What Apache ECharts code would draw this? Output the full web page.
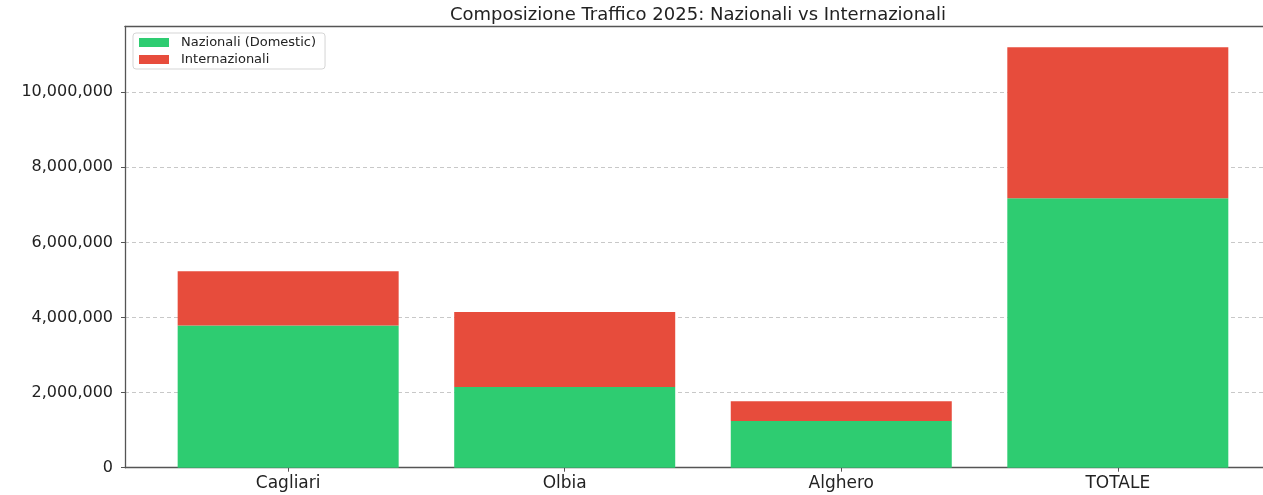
<!DOCTYPE html>
<html>
<head>
<meta charset="utf-8">
<script src="https://cdn.jsdelivr.net/npm/echarts@6/dist/echarts.min.js"></script>
<style>
  html, body { margin: 0; padding: 0; background: #fff; }
  #main { width: 1263px; height: 495px; }
</style>
</head>
<body>
<div id="main"></div>
<script>
// dati
const categories = ['Cagliari', 'Olbia', 'Alghero', 'TOTALE'];
const nazionali = [3790000, 2150000, 1245000, 7175000];
const internazionali = [1440000, 2000000, 525000, 4020000];

const fontName = 'DejaVu Sans';
const axisColor = '#555';

let myChart = echarts.init(document.getElementById('main'));

// posizioni delle barre sull'asse x (0..n-1)
const xPos = categories.map((c, i) => i);

// valore come prima dimensione, così lo stack avviene sull'asse y
const dims = ['val', 'pos'];

let option = {
  animation: false,
  textStyle: { fontFamily: fontName },
  title: {
    text: 'Composizione Traffico 2025: Nazionali vs Internazionali',
    left: 693,
    textAlign: 'center',
    top: 1,
    textStyle: { fontSize: 18, fontWeight: 'normal', color: '#222', fontFamily: fontName }
  },
  legend: {
    orient: 'vertical',
    left: 133,
    top: 33,
    itemWidth: 30,
    itemHeight: 9,
    itemGap: 4,
    padding: [3, 9, 3, 6],
    borderColor: '#d5d5d5',
    borderWidth: 1,
    borderRadius: 3,
    icon: 'rect',
    textStyle: { fontSize: 13, color: '#222', fontFamily: fontName, padding: [0, 0, 0, 7] },
    data: ['Nazionali (Domestic)', 'Internazionali']
  },
  grid: {
    left: 125,
    right: 0,
    top: 26.3,
    bottom: 27.3,
    containLabel: false
  },
  xAxis: [
    {
      type: 'value',
      min: -0.59,
      max: 3.525,
      splitLine: { show: false },
      axisLine: { show: true, onZero: false, lineStyle: { color: axisColor, width: 1.3 } },
      axisTick: { show: true, length: 4, lineStyle: { color: axisColor }, customValues: xPos },
      axisLabel: {
        customValues: xPos,
        margin: 7,
        fontSize: 17,
        color: '#222',
        formatter: v => categories[Math.round(v)]
      }
    },
    {
      // solo la cornice superiore
      type: 'value',
      position: 'top',
      min: -0.59,
      max: 3.525,
      splitLine: { show: false },
      axisLine: { show: true, onZero: false, lineStyle: { color: axisColor, width: 1.3 } },
      axisTick: { show: false },
      axisLabel: { show: false }
    }
  ],
  yAxis: {
    type: 'value',
    min: 0,
    max: 11756000,
    interval: 2000000,
    axisLine: { show: true, onZero: false, lineStyle: { color: axisColor, width: 1.3 } },
    axisTick: { show: true, length: 4, lineStyle: { color: axisColor } },
    axisLabel: {
      showMaxLabel: false,
      margin: 12,
      fontSize: 16,
      color: '#222',
      formatter: v => v.toLocaleString('en-US')
    },
    splitLine: {
      show: true,
      showMinLine: false,
      showMaxLine: false,
      lineStyle: { color: '#c8c8c8', type: [4, 3], width: 1 }
    }
  },
  series: [
    {
      name: 'Nazionali (Domestic)',
      type: 'bar',
      stack: 'tot',
      barWidth: 221,
      dimensions: dims,
      encode: { x: 'pos', y: 'val' },
      itemStyle: { color: '#2ecc71' },
      data: xPos.map(i => [nazionali[i], i])
    },
    {
      name: 'Internazionali',
      type: 'bar',
      stack: 'tot',
      barWidth: 221,
      dimensions: dims,
      encode: { x: 'pos', y: 'val' },
      itemStyle: { color: '#e74c3c' },
      data: xPos.map(i => [internazionali[i], i])
    }
  ]
};

option && myChart.setOption(option);
</script>
</body>
</html>
